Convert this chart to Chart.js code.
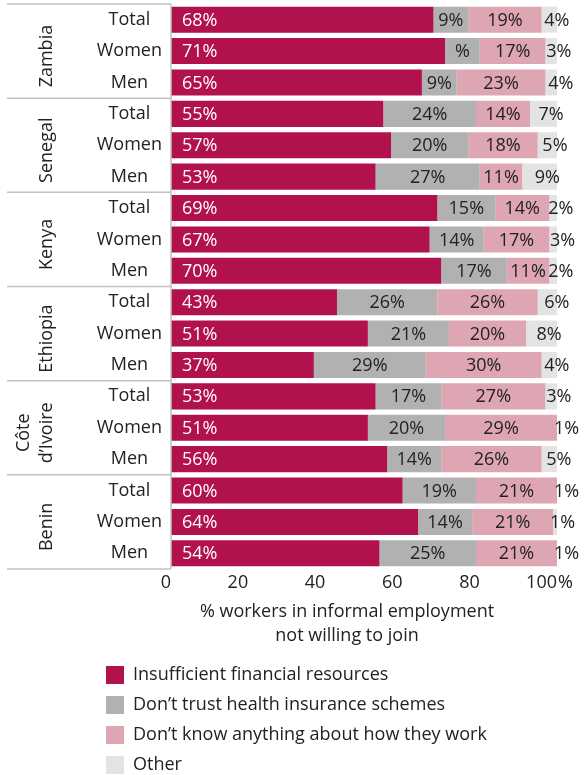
<!DOCTYPE html>
<html>
<head>
<meta charset="utf-8">
<title>Reasons for not joining health insurance</title>
<script src="https://cdn.jsdelivr.net/npm/chart.js@4.4.1/dist/chart.umd.min.js"></script>
<style>
  html, body { margin: 0; padding: 0; background: #fff; }
  #wrap { width: 585px; height: 775px; }
</style>
</head>
<body>
<div id="wrap"><canvas id="chart" width="585" height="775"></canvas></div>
<script>
const countries = [["Zambia"], ["Senegal"], ["Kenya"], ["Ethiopia"], ["Côte", "d’Ivoire"], ["Benin"]];
const groups = ["Total", "Women", "Men"];

// one value per row, rows in the order country x group
const financial   = [68, 71, 65, 55, 57, 53, 69, 67, 70, 43, 51, 37, 53, 51, 56, 60, 64, 54];
const noTrust     = [9, 9, 9, 24, 20, 27, 15, 14, 17, 26, 21, 29, 17, 20, 14, 19, 14, 25];
const noKnowledge = [19, 17, 23, 14, 18, 11, 14, 17, 11, 26, 20, 30, 27, 29, 26, 21, 21, 21];
const other       = [4, 3, 4, 7, 5, 9, 2, 3, 2, 6, 8, 4, 3, 1, 5, 1, 1, 1];

const seriesNames = [
  "Insufficient financial resources",
  "Don’t trust health insurance schemes",
  "Don’t know anything about how they work",
  "Other"
];
const seriesColors = ["#b1124e", "#b1b1b1", "#dea6b3", "#e3e3e3"];
const xTicks = [0, 20, 40, 60, 80, 100];
const axisTitle = ["% workers in informal employment", "not willing to join"];

// Zambia / Women / trust label lost its digit in print
const labelOverrides = { "1:1": "%" };

const FONT = "'Open Sans', 'Noto Sans', sans-serif";
const TEXT = "#222";

const rows = countries.flatMap(() => groups);

const segmentLabels = {
  id: "segmentLabels",
  afterDatasetsDraw(chart) {
    const ctx = chart.ctx;
    ctx.save();
    ctx.font = "18px " + FONT;
    ctx.textBaseline = "middle";
    chart.data.datasets.forEach((ds, di) => {
      chart.getDatasetMeta(di).data.forEach((bar, i) => {
        const { x, base, y } = bar.getProps(["x", "base", "y"], true);
        const text = labelOverrides[di + ":" + i] || ds.data[i] + "%";
        const mid = (x + base) / 2;
        if (di === 0) {
          ctx.fillStyle = "#fff";
          ctx.textAlign = "left";
          ctx.fillText(text, base + 11, y + 1);
        } else if (di === 3) {
          ctx.fillStyle = TEXT;
          ctx.textAlign = "left";
          ctx.fillText(text, mid - 5, y + 1);
        } else {
          ctx.fillStyle = TEXT;
          ctx.textAlign = "center";
          ctx.fillText(text, mid, y + 1);
        }
      });
    });
    ctx.restore();
  }
};

const groupFrame = {
  id: "groupFrame",
  afterDraw(chart) {
    const { ctx, chartArea } = chart;
    const yScale = chart.scales.y;
    const xScale = chart.scales.x;
    const n = groups.length;
    ctx.save();

    // separators between countries, plus the spine
    ctx.strokeStyle = "#c2c2c2";
    ctx.lineWidth = 1.5;
    ctx.beginPath();
    for (let g = 0; g <= countries.length; g++) {
      const py = yScale.getPixelForValue(g * n - 0.5);
      ctx.moveTo(7, py);
      ctx.lineTo(chartArea.left, py);
    }
    ctx.moveTo(chartArea.left, yScale.getPixelForValue(-0.5));
    ctx.lineTo(chartArea.left, yScale.getPixelForValue(rows.length - 0.5));
    ctx.stroke();

    // rotated country names
    ctx.fillStyle = TEXT;
    ctx.font = "18px " + FONT;
    ctx.textAlign = "center";
    ctx.textBaseline = "middle";
    countries.forEach((lines, g) => {
      const cy = yScale.getPixelForValue(g * n + 1) + 5;
      ctx.save();
      ctx.translate(47, cy);
      ctx.rotate(-Math.PI / 2);
      lines.forEach((line, k) => ctx.fillText(line, 0, (k - (lines.length - 1)) * 23));
      ctx.restore();
    });

    // percent sign after the last tick
    const tickY = chartArea.bottom + 14;
    ctx.textAlign = "left";
    ctx.fillText("%", xScale.getPixelForValue(100) + 1, tickY);

    // axis title
    ctx.textAlign = "center";
    const cx = (chartArea.left + chartArea.right) / 2 - 17;
    axisTitle.forEach((line, k) => ctx.fillText(line, cx, chartArea.bottom + 43 + k * 24));
    ctx.restore();
  }
};

Chart.defaults.font.family = FONT;
Chart.defaults.font.size = 18;
Chart.defaults.color = TEXT;

new Chart(document.getElementById("chart"), {
  type: "bar",
  data: {
    labels: rows,
    datasets: [financial, noTrust, noKnowledge, other].map((values, i) => ({
      label: seriesNames[i],
      data: values,
      backgroundColor: seriesColors[i],
      borderWidth: 0,
      categoryPercentage: 1,
      barPercentage: 0.83
    }))
  },
  options: {
    indexAxis: "y",
    responsive: false,
    animation: false,
    layout: { padding: { left: 94, right: 28, top: 4, bottom: -9 } },
    scales: {
      x: {
        stacked: true,
        min: 0,
        max: 100,
        grid: { display: false, drawTicks: false },
        border: { display: false },
        afterBuildTicks: scale => { scale.ticks = xTicks.map(v => ({ value: v })); },
        afterFit: scale => { scale.height = 85; },
        ticks: { align: "end", padding: 3, color: TEXT }
      },
      y: {
        stacked: true,
        grid: { display: false, drawTicks: false },
        border: { display: false },
        afterFit: scale => {
          scale.width = 77;
          scale.paddingTop = 0;
          scale.paddingBottom = 0;
        },
        ticks: { crossAlign: "center", padding: 9, color: TEXT }
      }
    },
    plugins: {
      tooltip: { enabled: false },
      legend: {
        position: "bottom",
        align: "start",
        labels: { boxWidth: 18, boxHeight: 18, padding: 12, color: TEXT, font: { size: 18 } }
      }
    }
  },
  plugins: [segmentLabels, groupFrame]
});
</script>
</body>
</html>
